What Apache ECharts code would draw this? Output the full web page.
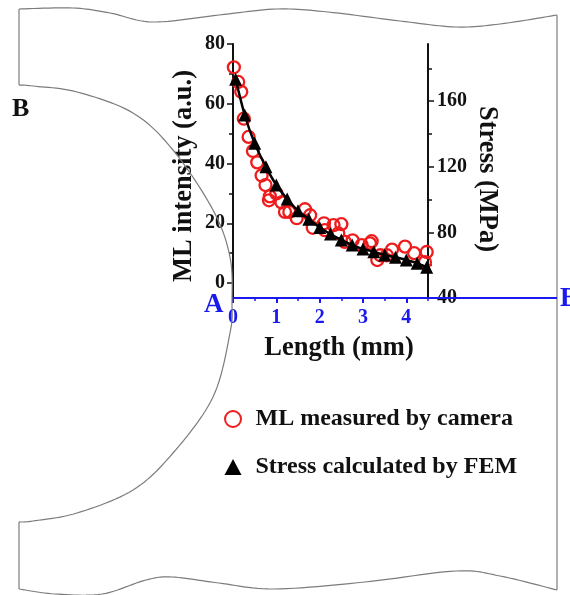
<!DOCTYPE html>
<html><head><meta charset="utf-8">
<style>html,body{margin:0;padding:0;background:#fff}#c{width:570px;height:595px;filter:blur(0.45px)}</style>
<script src="https://cdn.jsdelivr.net/npm/echarts@6/dist/echarts.min.js"></script>
</head><body><div id="c"></div>
<script>
const mlLength=[0.02,0.12,0.19,0.25,0.36,0.46,0.56,0.66,0.75,0.83,0.85,1.0,1.12,1.2,1.3,1.47,1.66,1.78,1.84,2.1,2.12,2.32,2.43,2.5,2.58,2.76,2.97,3.16,3.2,3.33,3.4,3.55,3.67,3.97,4.18,4.43,4.47];
const mlIntensity=[72.2,67.3,64,55,48.9,44.2,40.4,36,32.8,27.7,29,30,27,23.8,23.8,21.7,24.7,22.7,18.5,20,17.7,19.4,16.6,19.7,13.8,14.3,12.7,13.3,14,7.7,9.3,9.3,11.2,12.2,10,7,10.4];
const femLength=[0.06,0.27,0.5,0.76,1.0,1.25,1.5,1.75,2.0,2.25,2.5,2.75,3.0,3.25,3.5,3.75,4.0,4.25,4.47];
const femStress=[173.4,151.6,134.3,120,108.9,100.4,93.2,88,83,79,75.4,72.3,69.9,68.2,66.2,64.8,63.2,61.2,58.7];
const xMajor=[0,1,2,3,4], xMinor=[0.5,1.5,2.5,3.5,4.5];
const leftMajor=[0,20,40,60,80], leftMinor=[10,30,50,70];
const rightMajor=[40,80,120,160], rightMinor=[60,100,140,180];
const names={ml:'ML measured by camera',fem:'Stress calculated by FEM'};

const serif='"Liberation Serif","Times New Roman",serif';
const ink='#111', blue='#1a1aee', edge='#7c7c7c';
const tickLabel={fontFamily:serif,fontWeight:'bold',fontSize:20,color:ink};
const gridBox={left:233,top:44,width:195,height:254};
const chart=echarts.init(document.getElementById('c'),null,{renderer:'canvas'});
const zip=(a,b)=>a.map((v,i)=>[v,b[i]]);
// Catmull-Rom densify, so the specimen outline reads as a continuous curve
function curve(p){
  const out=[];
  for(let i=0;i<p.length-1;i++){
    const a=p[Math.max(i-1,0)],b=p[i],c=p[i+1],d=p[Math.min(i+2,p.length-1)];
    for(let k=0;k<12;k++){
      const t=k/12,t2=t*t,t3=t2*t;
      out.push([0,1].map(j=>0.5*(2*b[j]+(c[j]-a[j])*t+(2*a[j]-5*b[j]+4*c[j]-d[j])*t2+(3*b[j]-a[j]-3*c[j]+d[j])*t3)));
    }
  }
  out.push(p[p.length-1]);
  return out;
}
const edgeLine=(points)=>({type:'polyline',shape:{points},style:{stroke:edge,lineWidth:1.2,fill:null},silent:true,z:1});
const label=(text,x,y,size,color)=>({type:'text',x,y,z:20,style:{text,fontFamily:serif,fontWeight:'bold',fontSize:size,fill:color}});
const hidden={show:false};
chart.setOption({
  animation:false,backgroundColor:'#fff',
  grid:gridBox,
  legend:{left:219,top:402,orient:'vertical',itemGap:24,itemWidth:17,itemHeight:16,
    textStyle:{fontFamily:serif,fontWeight:'bold',fontSize:24,color:ink,padding:[0,0,0,9]},
    data:[{name:names.ml,icon:'circle',itemStyle:{color:'#fff',borderColor:'#ee1c1c',borderWidth:2}},
          {name:names.fem,icon:'triangle',itemStyle:{color:'#000',borderWidth:0}}]},
  xAxis:[
    {type:'value',min:0,max:4.5,name:'Length (mm)',nameLocation:'middle',nameGap:37,
     nameTextStyle:{fontFamily:serif,fontWeight:'bold',fontSize:26.5,color:ink,padding:[0,0,0,17]},
     axisLine:{show:true,onZero:false,lineStyle:{color:blue,width:2}},splitLine:hidden,
     axisTick:{show:true,customValues:xMajor,length:5,lineStyle:{color:blue,width:2}},
     axisLabel:{customValues:xMajor,fontFamily:serif,fontWeight:'bold',fontSize:20,color:blue,margin:10}},
    {type:'value',min:0,max:4.5,position:'bottom',axisLine:{show:false,onZero:false},splitLine:hidden,
     axisTick:{show:true,customValues:xMinor,length:3,lineStyle:{color:blue,width:1.5}},axisLabel:hidden}
  ],
  yAxis:[
    {type:'value',min:-5,max:80,position:'left',name:'ML intensity (a.u.)',nameLocation:'middle',nameGap:35,nameRotate:90,
     nameTextStyle:{fontFamily:serif,fontWeight:'bold',fontSize:26.5,color:ink,padding:[0,10,0,0]},
     axisLine:{show:true,onZero:false,lineStyle:{color:ink,width:2}},splitLine:hidden,
     axisTick:{show:true,customValues:leftMajor,length:6,lineStyle:{color:ink,width:1.5}},
     axisLabel:{customValues:leftMajor,margin:8,...tickLabel}},
    {type:'value',min:40,max:194.9,position:'right',name:'Stress (MPa)',nameLocation:'middle',nameGap:45,nameRotate:-90,
     nameTextStyle:{fontFamily:serif,fontWeight:'bold',fontSize:26.5,color:ink,padding:[0,0,0,16]},
     axisLine:{show:true,onZero:false,lineStyle:{color:ink,width:2}},splitLine:hidden,
     axisTick:{show:true,customValues:rightMajor,length:6,lineStyle:{color:ink,width:1.5}},
     axisLabel:{customValues:rightMajor,margin:9,...tickLabel}},
    {type:'value',min:-5,max:80,position:'left',axisLine:{show:false,onZero:false},splitLine:hidden,
     axisTick:{show:true,customValues:leftMinor,length:4,lineStyle:{color:ink,width:1.5}},axisLabel:hidden},
    {type:'value',min:40,max:194.9,position:'right',axisLine:{show:false,onZero:false},splitLine:hidden,
     axisTick:{show:true,customValues:rightMinor,length:4,lineStyle:{color:ink,width:1.5}},axisLabel:hidden}
  ],
  series:[
    {name:names.ml,type:'scatter',xAxisIndex:0,yAxisIndex:0,data:zip(mlLength,mlIntensity),symbol:'circle',symbolSize:12,clip:false,z:3,
     itemStyle:{color:'rgba(0,0,0,0)',borderColor:'#ee1c1c',borderWidth:2.3,opacity:1}},
    {name:names.fem,type:'line',xAxisIndex:0,yAxisIndex:1,data:zip(femLength,femStress),symbol:'triangle',symbolSize:13,showSymbol:true,showAllSymbol:true,clip:false,z:4,smooth:0.2,
     lineStyle:{color:'#000',width:2.5},itemStyle:{color:'#000',borderWidth:0}}
  ],
  graphic:[
    edgeLine(curve([[19,9],[73,8],[110,13],[153,22],[219,15],[277,9],[328,12],[400,21],[456,27],[500,24],[557,15]])),
    edgeLine([[19,9],[19,85]]),
    edgeLine([[557,15],[557,590]]),
    edgeLine(curve([[19,85],[33,86],[77,92],[133,113],[173,150],[213,210],[230,257],[232,303],[230,333],[213,397],[173,453],[133,490],[77,513],[33,521],[19,522]])),
    edgeLine([[19,522],[19,589]]),
    edgeLine(curve([[19,589],[55,594],[102,594],[146,580],[172,577],[219,583],[274,589],[365,582],[456,571],[500,576],[557,590]])),
    {type:'line',shape:{x1:428,y1:298,x2:557,y2:298},style:{stroke:blue,lineWidth:2},z:20,silent:true},
    label('B',12,96,26,ink),
    label('A',204,292,27,blue),
    label('B',560,286,27,blue)
  ]
});
</script></body></html>
